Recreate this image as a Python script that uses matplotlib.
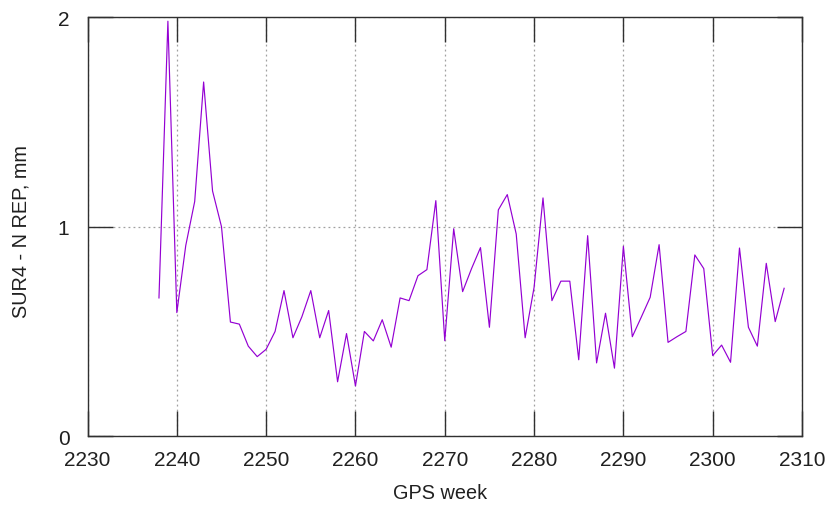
import numpy as np
import matplotlib
matplotlib.use("Agg")
import matplotlib.pyplot as plt

# weekly values
weeks = np.arange(2238, 2309)
rep_n = [0.66, 1.98, 0.59, 0.91, 1.12, 1.69, 1.17, 1.00, 0.545, 0.535,
         0.43, 0.38, 0.415, 0.50, 0.695, 0.47, 0.57, 0.695, 0.47, 0.60,
         0.26, 0.49, 0.24, 0.50, 0.455, 0.556, 0.425, 0.66, 0.647, 0.766,
         0.795, 1.124, 0.456, 0.99, 0.69, 0.80, 0.90, 0.52, 1.08, 1.153,
         0.965, 0.47, 0.71, 1.137, 0.647, 0.74, 0.74, 0.365, 0.957, 0.35,
         0.587, 0.325, 0.906, 0.475, 0.568, 0.663, 0.914, 0.448, 0.475, 0.50,
         0.865, 0.80, 0.385, 0.435, 0.353, 0.898, 0.52, 0.43, 0.825, 0.547,
         0.706]

xticks = np.arange(2230, 2311, 10)
yticks = [0, 1, 2]

plt.rcParams['font.family'] = ['Liberation Sans', 'DejaVu Sans']

fig = plt.figure(figsize=(8.28, 5.06), dpi=100)
ax = fig.add_axes([0.1057, 0.1358, 0.8629, 0.8286])

ax.plot(weeks, rep_n, color='#9400d3', linewidth=0.85)

ax.set_xlim(2230, 2310)
ax.set_ylim(0, 2)
ax.set_xticks(xticks)
ax.set_yticks(yticks)
ax.grid(True, color='#a0a0a0', linestyle=(0, (1.5, 2.5)), linewidth=0.9)
ax.tick_params(direction='in', length=18, width=1.0, color='#303030',
               top=True, right=True, labelsize=15, labelcolor='#202020')
ax.tick_params(axis='x', pad=10)
ax.tick_params(axis='y', pad=13)
for s in ax.spines.values():
    s.set_color('#303030')
    s.set_linewidth(1.0)

ax.set_xlabel("GPS week", fontsize=14.3, va='center', color='#202020')
ax.xaxis.set_label_coords(0.494, -0.135)
ax.set_ylabel("SUR4 - N REP, mm", fontsize=14.3, va='center', color='#202020')
ax.yaxis.set_label_coords(-0.093, 0.49)

fig.savefig("out.png", dpi=100)
